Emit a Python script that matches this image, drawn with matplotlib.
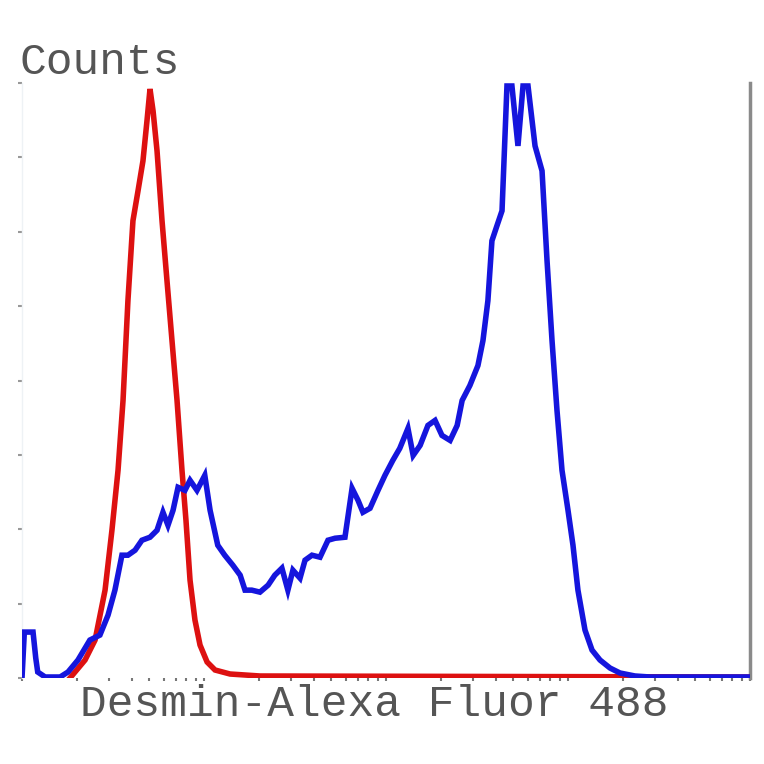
import matplotlib
matplotlib.use("Agg")
import matplotlib.pyplot as plt
from matplotlib.ticker import LogLocator, MultipleLocator, NullFormatter

# Isotype control (red)
red_x = [1.835, 2.22, 2.52, 2.86, 3.12, 3.37, 3.59, 3.82, 4.07, 4.34, 4.62, 4.86, 5.05,
         5.25, 5.52, 5.88, 6.26, 6.67, 7.11, 7.57, 7.96, 8.38, 8.92, 9.51, 10.4, 11.5,
         13.9, 20.3, 10000]
red_y = [0, 18, 38, 88, 148, 208, 278, 378, 458, 488, 518, 558, 590,
         568, 528, 458, 398, 338, 278, 208, 158, 98, 58, 33, 16, 8,
         4, 2, 1]

# Desmin stained (blue)
blue_x = [1.0, 1.03, 1.08, 1.15, 1.19, 1.22, 1.34, 1.62, 1.79, 2.03, 2.36, 2.68, 2.97, 3.24,
          3.54, 3.82, 4.18, 4.56, 5.05, 5.52, 5.95, 6.34, 6.76, 7.20, 7.86, 8.38,
          9.15, 10.1, 10.8, 11.9, 13.0, 14.4, 15.8, 16.8, 18.3, 20.3, 22.5, 24.5,
          26.8, 28.9, 30.8, 33.7, 35.9, 39.2, 43.4, 48.0, 52.5, 59.5, 65.1, 70.2,
          74.7, 81.7, 90.4, 98.7, 109, 119, 132, 141, 154, 170, 186, 203, 225, 246,
          262, 289, 320, 341, 363, 382, 407, 434, 462, 492, 531, 566, 603, 659,
          720, 767, 817, 870, 927, 1000, 1065, 1134, 1240, 1355, 1499, 1701, 1931,
          2334, 2822, 10000]
blue_y = [0, 46, 46, 46, 20, 6, 1, 1, 6, 18, 38, 43, 63, 88,
          123, 123, 128, 138, 141, 148, 166, 153, 168, 191, 188, 198,
          188, 203, 168, 133, 123, 113, 103, 88, 88, 86, 93, 103,
          110, 88, 108, 100, 118, 123, 121, 138, 140, 141, 190, 178,
          166, 170, 188, 203, 218, 230, 250, 223, 233, 253, 258, 243, 238, 253,
          278, 293, 313, 338, 378, 438, 453, 468, 593, 593, 533, 593, 593, 533,
          508, 418, 338, 268, 208, 168, 133, 88, 48, 28, 18, 10, 5,
          2, 1, 1]

x_label = "Desmin-Alexa Fluor 488"
y_label = "Counts"

fig = plt.figure(figsize=(7.64, 7.64), dpi=100)
ax = fig.add_axes([22 / 764, 86 / 764, 728 / 764, 595 / 764])

ax.plot(red_x, red_y, color="#dd1111", lw=4, solid_joinstyle="miter", zorder=3)
ax.plot(blue_x, blue_y, color="#1515dd", lw=4, solid_joinstyle="miter", zorder=4)

ax.set_xscale("log")
ax.set_xlim(1, 10000)
ax.set_ylim(0, 596)

ax.xaxis.set_major_locator(LogLocator(base=10, numticks=10))
ax.xaxis.set_minor_locator(LogLocator(base=10, subs=range(2, 10), numticks=20))
ax.xaxis.set_major_formatter(NullFormatter())
ax.xaxis.set_minor_formatter(NullFormatter())
ax.yaxis.set_major_locator(MultipleLocator(74.5))
ax.yaxis.set_major_formatter(NullFormatter())

ax.tick_params(axis="x", which="both", direction="out", length=2.5, width=1.5, color="#777777")
ax.tick_params(axis="y", which="both", direction="out", length=3, width=1.5, color="#999999", left=True)

for s in ["top", "bottom"]:
    ax.spines[s].set_visible(False)
ax.spines["left"].set_color("#eef2f5")
ax.spines["left"].set_linewidth(1)
ax.spines["right"].set_color("#8a8a8a")
ax.spines["right"].set_linewidth(2.5)

fig.text(20 / 764, 1 - 74 / 764, y_label, family="Liberation Mono", fontsize=32,
         color="#555555", ha="left", va="baseline")
fig.text(374 / 764, 1 - 716 / 764, x_label, family="Liberation Mono", fontsize=32,
         color="#555555", ha="center", va="baseline")

fig.savefig("out.png", dpi=100)
